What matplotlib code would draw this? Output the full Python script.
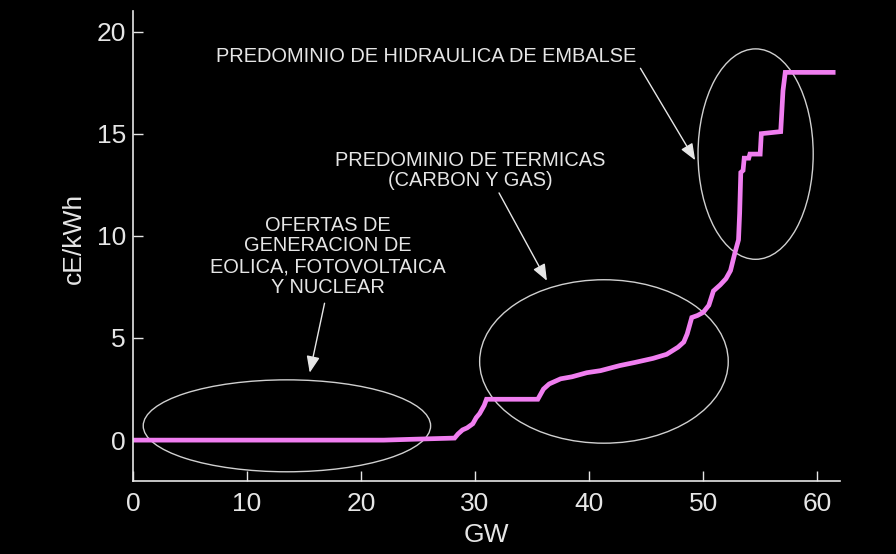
import matplotlib
matplotlib.use("Agg")
from matplotlib import pyplot as plt
from matplotlib.patches import Ellipse

# supply curve (GW offered vs price)
gw = [0, 22, 25, 28.2, 28.5, 28.9, 29.3, 29.8, 30.1, 30.4, 30.8, 31.0,
      35.5, 35.7, 36.0, 36.5, 37.5, 38.5, 39.8, 41.0, 42.7, 44.0, 45.6, 46.8, 47.8,
      48.3, 48.6, 49.0, 49.5, 50.0, 50.5, 50.9, 51.5, 52.0, 52.4, 52.8, 53.1,
      53.2, 53.3, 53.5, 53.6, 54.0, 54.1, 55.0, 55.1, 56.8, 57.0, 57.2, 61.4]
price = [0, 0, 0.05, 0.1, 0.3, 0.5, 0.6, 0.8, 1.1, 1.3, 1.7, 2.0,
         2.0, 2.2, 2.5, 2.75, 3.0, 3.1, 3.3, 3.4, 3.65, 3.8, 4.0, 4.2, 4.55,
         4.8, 5.2, 6.0, 6.1, 6.25, 6.6, 7.3, 7.6, 7.9, 8.3, 9.2, 9.8,
         11.1, 13.1, 13.2, 13.8, 13.8, 14.0, 14.0, 15.0, 15.1, 17.1, 18.0, 18.0]

# highlighted regions: centre x, centre y, width, height
ellipses = [(13.5, 0.7, 25.2, 4.5),
            (41.3, 3.85, 21.8, 8.0),
            (54.6, 14.0, 10.1, 10.3)]

labels = ["OFERTAS DE\nGENERACION DE\nEOLICA, FOTOVOLTAICA\nY NUCLEAR",
          "PREDOMINIO DE TERMICAS\n(CARBON Y GAS)",
          "PREDOMINIO DE HIDRAULICA DE EMBALSE"]
label_pos = [(17.1, 9.0), (29.6, 13.2), (25.7, 18.78)]
arrow_start = [(16.8, 6.7), (32.1, 12.1), (44.5, 18.2)]
arrow_end = [(15.5, 3.3), (36.3, 7.8), (49.3, 13.7)]

fg = "#e6e6e6"
plt.rcParams["font.family"] = ["Liberation Sans", "DejaVu Sans"]

fig = plt.figure(figsize=(8.96, 5.54), dpi=100, facecolor="black")
ax = fig.add_axes([0.1484, 0.1318, 0.7891, 0.8482])
ax.set_facecolor("black")

ax.plot(gw, price, color="#f07ef0", lw=3.4, solid_joinstyle="miter")

for cx, cy, w, h in ellipses:
    ax.add_patch(Ellipse((cx, cy), w, h, fill=False, ec="#d0d0d0", lw=1.0))

for txt, pos, a, b in zip(labels, label_pos, arrow_start, arrow_end):
    ax.text(pos[0], pos[1], txt, color=fg, fontsize=14.4, ha="center",
            va="center", linespacing=1.12)
    ax.annotate("", xy=b, xytext=a,
                arrowprops=dict(arrowstyle="-|>,head_length=1.0,head_width=0.4",
                                color=fg, lw=1.0, shrinkA=0, shrinkB=0))

ax.set_xlim(0, 62)
ax.set_ylim(-2, 21)
ax.set_xticks([0, 10, 20, 30, 40, 50, 60])
ax.set_yticks([0, 5, 10, 15, 20])
ax.tick_params(direction="in", length=7, width=1, colors=fg, labelsize=19)
ax.tick_params(axis="x", pad=8)
ax.tick_params(axis="y", pad=5)
for s in ["top", "right"]:
    ax.spines[s].set_visible(False)
for s in ["left", "bottom"]:
    ax.spines[s].set_color(fg)
    ax.spines[s].set_linewidth(1.2)

ax.set_xlabel("GW", color=fg, fontsize=19, labelpad=5)
ax.set_ylabel("cE/kWh", color=fg, fontsize=19)
ax.yaxis.set_label_coords(-0.066, 0.517)

fig.savefig("out.png", dpi=100, facecolor="black")
